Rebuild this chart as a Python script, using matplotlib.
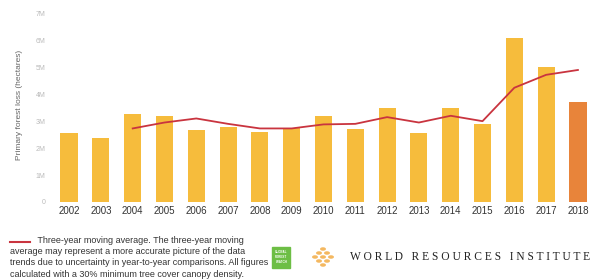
import matplotlib
matplotlib.use("Agg")
from matplotlib import pyplot as plt
import matplotlib.patches as patches

import numpy as np

years = [2002, 2003, 2004, 2005, 2006, 2007, 2008, 2009, 2010,
         2011, 2012, 2013, 2014, 2015, 2016, 2017, 2018]
# primary forest loss, million hectares
loss = [2.55, 2.37, 3.25, 3.2, 2.66, 2.77, 2.59, 2.73, 3.2,
        2.7, 3.5, 2.55, 3.5, 2.9, 6.1, 5.0, 3.7]
# three-year moving average, from 2004
avg_years = [2004, 2005, 2006, 2007, 2008, 2009, 2010, 2011,
             2012, 2013, 2014, 2015, 2016, 2017, 2018]
moving_avg = [2.73, 2.95, 3.1, 2.9, 2.73, 2.73, 2.88, 2.9,
              3.15, 2.95, 3.2, 3.0, 4.24, 4.72, 4.9]
ytick_labels = ['0', '1M', '2M', '3M', '4M', '5M', '6M', '7M']

plt.rcParams['font.family'] = ['Liberation Sans', 'DejaVu Sans']

def forest_chart():
    fig = plt.figure(figsize=(5.94, 2.8), dpi=100)
    ax = fig.add_axes([50 / 594, 78 / 280, 540 / 594, 194 / 280])

    x = np.arange(len(years))
    colors = ['#F6BC3C'] * (len(years) - 1) + ['#E8843A']
    ax.bar(x, loss, width=0.54, color=colors, zorder=2)

    ax_x = [years.index(y) for y in avg_years]
    ax.plot(ax_x, moving_avg, color='#C9343F', lw=1.3, zorder=3)

    ax.set_xlim(-0.6, 16.38)
    ax.set_ylim(0, 7.2)
    ax.set_xticks(x)
    ax.set_xticklabels([str(y) for y in years], fontsize=7, color='#333333')
    ax.set_yticks(range(8))
    ax.set_yticklabels(ytick_labels, fontsize=5, color='#bbbbbb')
    ax.tick_params(length=0, pad=3)
    for s in ax.spines.values():
        s.set_visible(False)
    ax.set_ylabel('Primary forest loss (hectares)', fontsize=6, color='#666666',
                  labelpad=9)

    # legend / caption
    fig.add_artist(plt.Line2D([10 / 594, 30 / 594], [1 - 242 / 280] * 2,
                              color='#C9343F', lw=1.5))
    caption = ("Three-year moving average. The three-year moving\n"
               "average may represent a more accurate picture of the data\n"
               "trends due to uncertainty in year-to-year comparisons. All figures\n"
               "calculated with a 30% minimum tree cover canopy density.")
    fig.text(10 / 594, 1 - 236 / 280,
             "           " + caption, fontsize=6.5, color='#333333',
             va='top', ha='left', linespacing=1.32)

    # GFW logo
    fig.add_artist(patches.Rectangle((272 / 594, 1 - 268 / 280), 18 / 594, 21 / 280,
                                     color='#6DBE45', transform=fig.transFigure))
    fig.text(281 / 594, 1 - 257 / 280, 'GLOBAL\nFOREST\nWATCH', fontsize=2.2,
             color='white', ha='center', va='center', fontweight='bold')

    # WRI logo
    for dx, dy in [(0, 8), (-8, 0), (8, 0), (0, -8), (-4, 4), (4, 4), (-4, -4), (4, -4), (0, 0)]:
        fig.add_artist(patches.Circle(((323 + dx) / 594, 1 - (257 + dy) / 280),
                                      2.2 / 594, color='#F4B860',
                                      transform=fig.transFigure))
    fig.text(350 / 594, 1 - 257 / 280, 'W O R L D   R E S O U R C E S   I N S T I T U T E',
             fontsize=8.3, color='#222222', va='center', ha='left',
             family=['Liberation Serif', 'DejaVu Serif'])

    fig.savefig('out.png', dpi=100)
    plt.close(fig)


if __name__ == "__main__":
    forest_chart()
